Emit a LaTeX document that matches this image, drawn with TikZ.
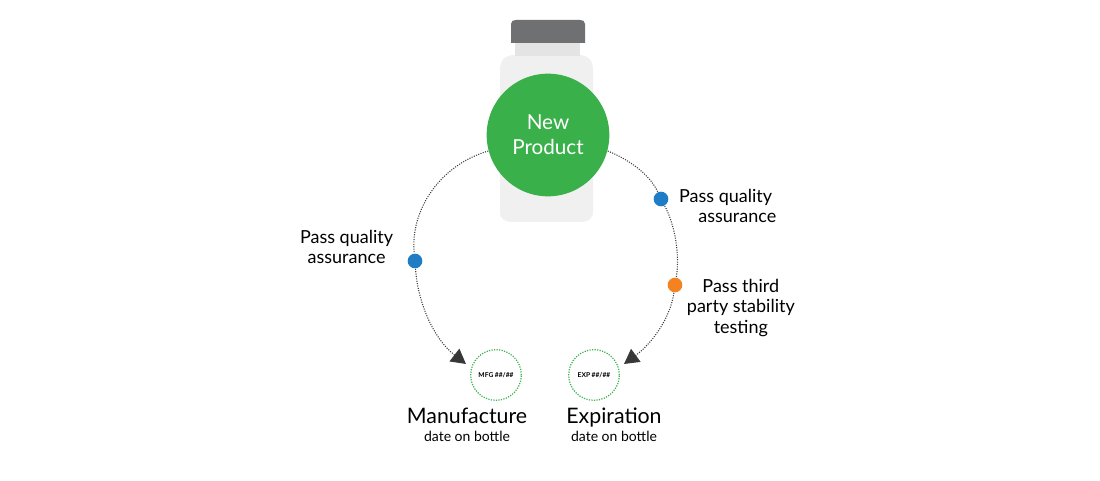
\documentclass[tikz,border=0pt]{standalone}
\usepackage{fontspec}
\setmainfont{Lato}
\usetikzlibrary{arrows.meta}
\tikzset{every picture/.style={line width=0.75pt}}
\definecolor{newgreen}{RGB}{57,176,74}
\definecolor{dotblue}{RGB}{30,125,196}
\definecolor{dotorange}{RGB}{245,130,32}
\definecolor{capgray}{RGB}{110,112,114}
\tikzset{
  pathline/.style={densely dotted, color={rgb,255:red,60;green,60;blue,60}, line width=0.8pt},
  tip/.style={-{Triangle[length=11pt,width=12pt,fill={rgb,255:red,55;green,55;blue,55}]}},
  stepdot/.style={circle, inner sep=0pt, minimum size=11pt},
  datering/.style={circle, draw=newgreen, densely dotted, line width=0.9pt, minimum size=38pt, font=\fontsize{5}{6}\selectfont\bfseries},
  label/.style={font=\fontsize{13.5}{15.5}\selectfont, align=center},
  datetitle/.style={font=\fontsize{16}{18}\selectfont, anchor=base},
  datesub/.style={font=\fontsize{10.5}{12}\selectfont, anchor=base}
}
\begin{document}
\begin{tikzpicture}[x=0.75pt,y=0.75pt,yscale=-1,xscale=1]
\useasboundingbox (0,0) rectangle (1100,481);

%Bottle
\fill [color={rgb,255:red,240;green,240;blue,240}] (500,70) .. controls (500,60) and (505,55) .. (515,55) -- (578,55) .. controls (588,55) and (593,60) .. (593,70) -- (593,212) .. controls (593,219) and (588,222) .. (580,222) -- (513,222) .. controls (505,222) and (500,219) .. (500,212) -- cycle ;
\fill [color={rgb,255:red,228;green,228;blue,228}] (515,43) rectangle (580,56) ;
\fill [color=capgray] (511,24) .. controls (511,21) and (513,20) .. (516,20) -- (580,20) .. controls (583,20) and (585,21) .. (585,24) -- (585,43) -- (511,43) -- cycle ;

%Centre node
\node [circle, fill=newgreen, minimum size=92pt, text=white, font=\fontsize{15.5}{19}\selectfont, align=center] (prod) at (548,135) {New\\Product};

%Dots
\node [stepdot, fill=dotblue] (qaleft) at (415,261) {};
\node [stepdot, fill=dotblue] (qaright) at (661,199) {};
\node [stepdot, fill=dotorange] (third) at (675,285) {};

%Date rings
\node [datering] (mfg) at (496,375) {MFG \#\#/\#\#};
\node [datering] (exp) at (594,375) {EXP \#\#/\#\#};
\coordinate (mfgin) at (466,364);
\coordinate (expin) at (624,364);

%Arcs
\draw [pathline] (prod.195) .. controls (440,165) and (410,210) .. (qaleft);
\draw [pathline, tip] (qaleft) .. controls (418,305) and (435,340) .. (mfgin);
\draw [pathline] (prod.-15) .. controls (630,160) and (650,175) .. (qaright);
\draw [pathline] (qaright) .. controls (675,225) and (680,255) .. (third);
\draw [pathline, tip] (third) .. controls (670,320) and (650,345) .. (expin);

% Text Node
\node [label, anchor=east] at (398,247) {Pass quality\\assurance};
\node [label, anchor=west] at (670,206) {Pass quality\\\hspace*{1.3em}assurance};
\node [label, anchor=west] at (682,308) {Pass third\\party stability\\testing};
\node [datetitle] (mfgtxt) at (467,423) {Manufacture};
\node [datesub] (mfgsub) at (467,441) {date on bottle};
\node [datetitle] (exptxt) at (614,423) {Expiration};
\node [datesub] (expsub) at (614,441) {date on bottle};

\end{tikzpicture}
\end{document}
